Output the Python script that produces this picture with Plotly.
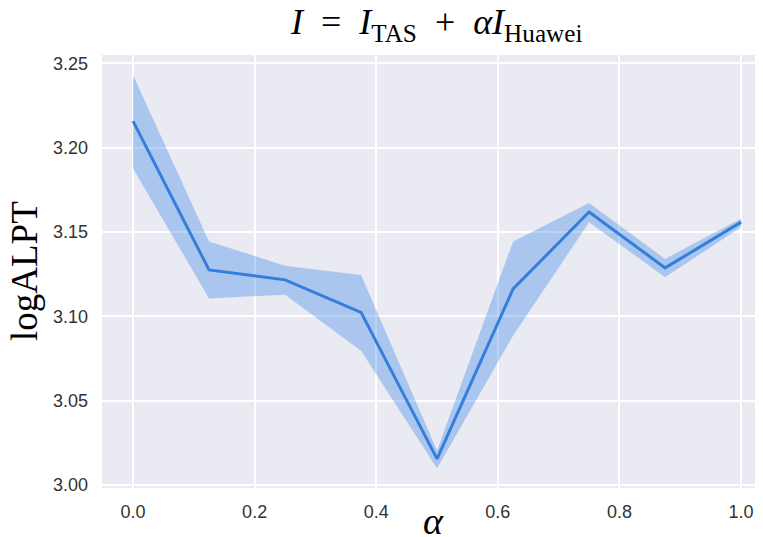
import plotly.graph_objects as go

alpha = [0.0, 0.125, 0.25, 0.375, 0.5, 0.625, 0.75, 0.875, 1.0]
mean = [3.2157, 3.1275, 3.1216, 3.1023, 3.0155, 3.1162, 3.1618, 3.1287, 3.1558]
upper = [3.2430, 3.1444, 3.1300, 3.1245, 3.0205, 3.1444, 3.1671, 3.1340, 3.1580]
lower = [3.1876, 3.1106, 3.1128, 3.0795, 3.0098, 3.0885, 3.1558, 3.1231, 3.1529]
x_ticks = [0.0, 0.2, 0.4, 0.6, 0.8, 1.0]
x_tick_labels = ["0.0", "0.2", "0.4", "0.6", "0.8", "1.0"]
y_ticks = [3.00, 3.05, 3.10, 3.15, 3.20, 3.25]
y_tick_labels = ["3.00", "3.05", "3.10", "3.15", "3.20", "3.25"]

line_color = "rgb(52,126,220)"
band_color = "rgba(60,135,230,0.36)"

fig = go.Figure()
fig.add_trace(go.Scatter(x=alpha, y=upper, mode="lines", line=dict(width=0),
                         hoverinfo="skip", showlegend=False))
fig.add_trace(go.Scatter(x=alpha, y=lower, mode="lines", line=dict(width=0),
                         fill="tonexty", fillcolor=band_color,
                         hoverinfo="skip", showlegend=False))
fig.add_trace(go.Scatter(x=alpha, y=mean, mode="lines",
                         line=dict(color=line_color, width=3),
                         showlegend=False))

# page body has an 8px margin, so the figure is drawn 8px smaller and offset
OFF = 8
W, H = 763 - OFF, 537 - OFF
L, R, T, B = 102 - OFF, 0, 55 - OFF, 537 - 488
pw, ph = W - L - R, H - T - B

tick_font = dict(family="Liberation Sans, Arial, sans-serif", size=18, color="#333333")
serif = "Liberation Serif, Times New Roman, serif"

sp = "\u2002"
title = (f"<i>I</i>{sp}={sp}<i>I</i><sub>TAS</sub>{sp}+{sp}"
         f"<i>α</i><i>I</i><sub>Huawei</sub>")

fig.update_layout(
    width=W, height=H,
    margin=dict(l=L, r=R, t=T, b=B, pad=0),
    paper_bgcolor="white",
    plot_bgcolor="#eaeaf2",
    xaxis=dict(range=[-0.051, 1.036], tickvals=x_ticks, ticktext=x_tick_labels,
               showgrid=True, gridcolor="white", gridwidth=1.8, zeroline=False,
               showline=False, ticks="", tickfont=tick_font, ticklabelstandoff=11),
    yaxis=dict(range=[2.9982, 3.2549], tickvals=y_ticks, ticktext=y_tick_labels,
               showgrid=True, gridcolor="white", gridwidth=1.8, zeroline=False,
               showline=False, ticks="", tickfont=tick_font, ticklabelstandoff=13),
    annotations=[
        dict(text=title,
             xref="paper", yref="paper", x=(436 - 102) / pw, y=1 + (55 - 24) / ph,
             xanchor="center", yanchor="middle", showarrow=False, borderpad=0,
             font=dict(family=serif, size=36, color="black")),
        dict(text="logALPT", textangle=-90,
             xref="paper", yref="paper", x=(24 - 102) / pw, y=(488 - 271) / ph,
             xanchor="center", yanchor="middle", showarrow=False,
             font=dict(family=serif, size=37, color="black")),
        dict(text="<i>α</i>",
             xref="paper", yref="paper", x=(433 - 102) / pw, y=(488 - 521) / ph,
             xanchor="center", yanchor="middle", showarrow=False,
             font=dict(family=serif, size=38, color="black")),
    ],
)

fig.write_html("out.html")
